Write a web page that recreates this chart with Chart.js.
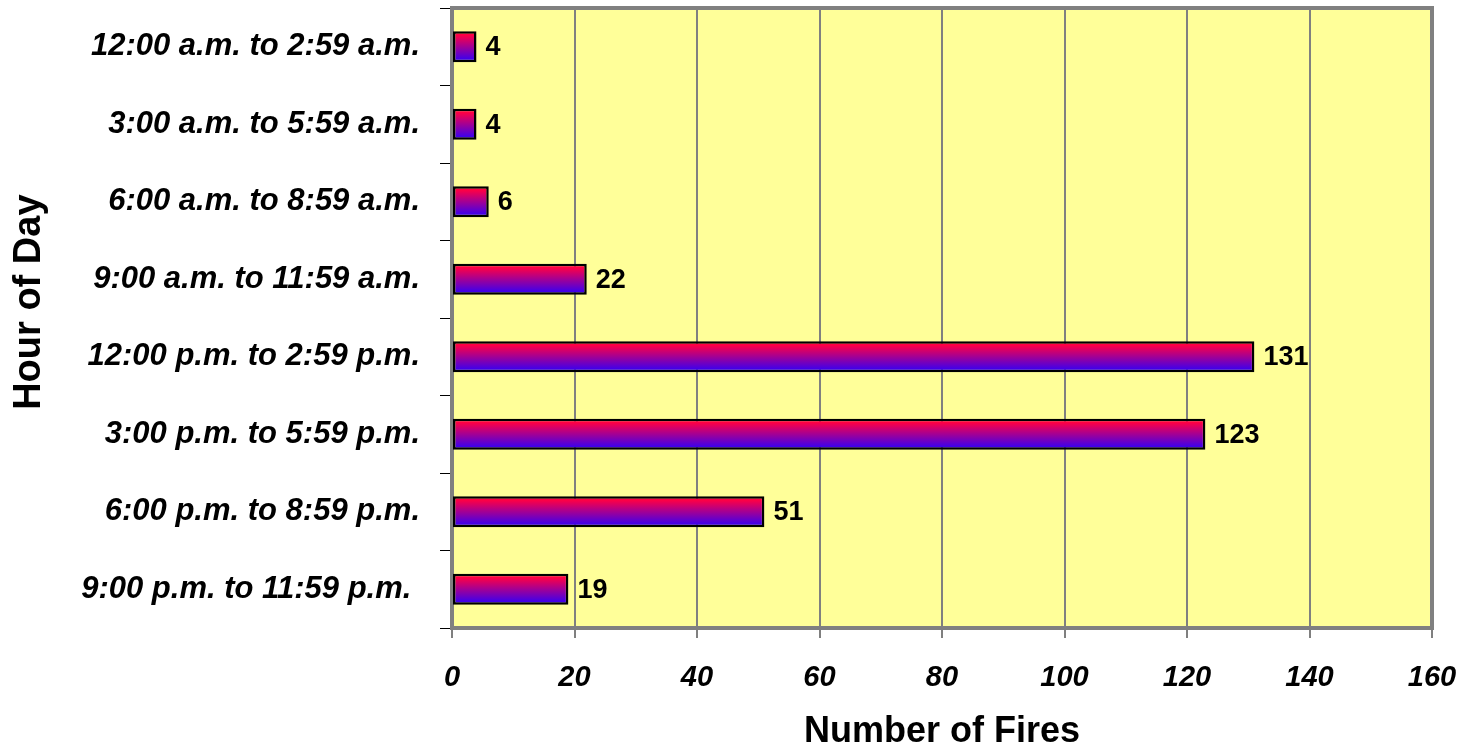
<!DOCTYPE html>
<html>
<head>
<meta charset="utf-8">
<script src="https://cdn.jsdelivr.net/npm/chart.js@4/dist/chart.umd.min.js"></script>
<style>
  html, body { margin: 0; padding: 0; background: #ffffff; }
  #wrap { width: 1465px; height: 752px; position: relative; }
</style>
</head>
<body>
<div id="wrap"><canvas id="c" width="1465" height="752"></canvas></div>
<script>
const categories = [
  "12:00 a.m. to 2:59 a.m.",
  "3:00 a.m. to 5:59 a.m.",
  "6:00 a.m. to 8:59 a.m.",
  "9:00 a.m. to 11:59 a.m.",
  "12:00 p.m. to 2:59 p.m.",
  "3:00 p.m. to 5:59 p.m.",
  "6:00 p.m. to 8:59 p.m.",
  "9:00 p.m. to 11:59 p.m. "
];
const fires = [4, 4, 6, 22, 131, 123, 51, 19];
const xTicks = [0, 20, 40, 60, 80, 100, 120, 140, 160];
const xTitle = "Number of Fires";
const yTitle = "Hour of Day";

const FONT = "'Liberation Sans', Arial, Helvetica, sans-serif";

const plotFrame = {
  id: 'plotFrame',
  beforeDraw(chart) {
    const {ctx, chartArea: a} = chart;
    ctx.save();
    ctx.fillStyle = '#FFFF99';
    ctx.fillRect(a.left, a.top, a.right - a.left, a.bottom - a.top);
    ctx.restore();
  },
  beforeDatasetsDraw(chart) {
    const {ctx, chartArea: a} = chart;
    ctx.save();
    ctx.strokeStyle = '#808080';
    ctx.lineWidth = 4;
    ctx.strokeRect(a.left, a.top, a.right - a.left, a.bottom - a.top);
    ctx.restore();
  }
};

const valueLabels = {
  id: 'valueLabels',
  afterDatasetsDraw(chart) {
    const {ctx} = chart;
    const meta = chart.getDatasetMeta(0);
    ctx.save();
    ctx.fillStyle = '#000';
    ctx.font = "bold 27px " + FONT;
    ctx.textAlign = 'left';
    ctx.textBaseline = 'middle';
    meta.data.forEach((el, i) => {
      ctx.fillText(String(chart.data.datasets[0].data[i]), el.x + 9, el.y + 1);
    });
    ctx.restore();
  }
};

function barGradient(context) {
  const chart = context.chart;
  const y = chart.scales.y;
  if (!y || y.top === undefined) return '#aa0088';
  const center = y.getPixelForValue(context.dataIndex);
  const thick = (y.bottom - y.top) / categories.length * 0.4;
  const g = chart.ctx.createLinearGradient(0, center - thick / 2, 0, center + thick / 2);
  g.addColorStop(0, '#ff0040');
  g.addColorStop(0.12, '#ff0044');
  g.addColorStop(1, '#2800ff');
  return g;
}

new Chart(document.getElementById('c'), {
  type: 'bar',
  data: {
    labels: categories,
    datasets: [{
      data: fires,
      backgroundColor: barGradient,
      borderColor: '#000000',
      borderWidth: 2.5,
      borderSkipped: false,
      categoryPercentage: 1.0,
      barPercentage: 0.4
    }]
  },
  options: {
    indexAxis: 'y',
    responsive: false,
    animation: false,
    events: [],
    layout: { padding: { top: 8, right: 33, left: 0, bottom: 0 } },
    plugins: {
      legend: { display: false },
      tooltip: { enabled: false },
      title: { display: false }
    },
    scales: {
      x: {
        type: 'linear',
        min: 0,
        max: 160,
        afterBuildTicks(scale) { scale.ticks = xTicks.map(v => ({ value: v })); },
        afterFit(scale) { scale.height = 124; scale.paddingLeft = 0; scale.paddingRight = 0; },
        border: { display: false },
        grid: {
          color: '#808080',
          lineWidth: 2,
          tickColor: '#000000',
          tickWidth: 1,
          tickLength: 10
        },
        ticks: {
          color: '#000',
          padding: 23,
          maxRotation: 0,
          font: { family: FONT, size: 29, weight: 'bold', style: 'italic' }
        },
        title: {
          display: true,
          text: xTitle,
          color: '#000',
          padding: { top: 0, bottom: -2 },
          font: { family: FONT, size: 36, weight: 'bold' }
        }
      },
      y: {
        type: 'category',
        afterFit(scale) { scale.width = 452; scale.paddingTop = 0; scale.paddingBottom = 0; },
        border: { display: false },
        grid: {
          offset: true,
          drawOnChartArea: false,
          tickColor: '#000000',
          tickWidth: 1,
          tickLength: 12
        },
        ticks: {
          color: '#000',
          padding: 20,
          autoSkip: false,
          font: { family: FONT, size: 31, weight: 'bold', style: 'italic' }
        },
        title: {
          display: true,
          text: "   " + yTitle,
          color: '#000',
          padding: { top: 7, bottom: 0 },
          font: { family: FONT, size: 38, weight: 'bold' }
        }
      }
    }
  },
  plugins: [plotFrame, valueLabels]
});
</script>
</body>
</html>
